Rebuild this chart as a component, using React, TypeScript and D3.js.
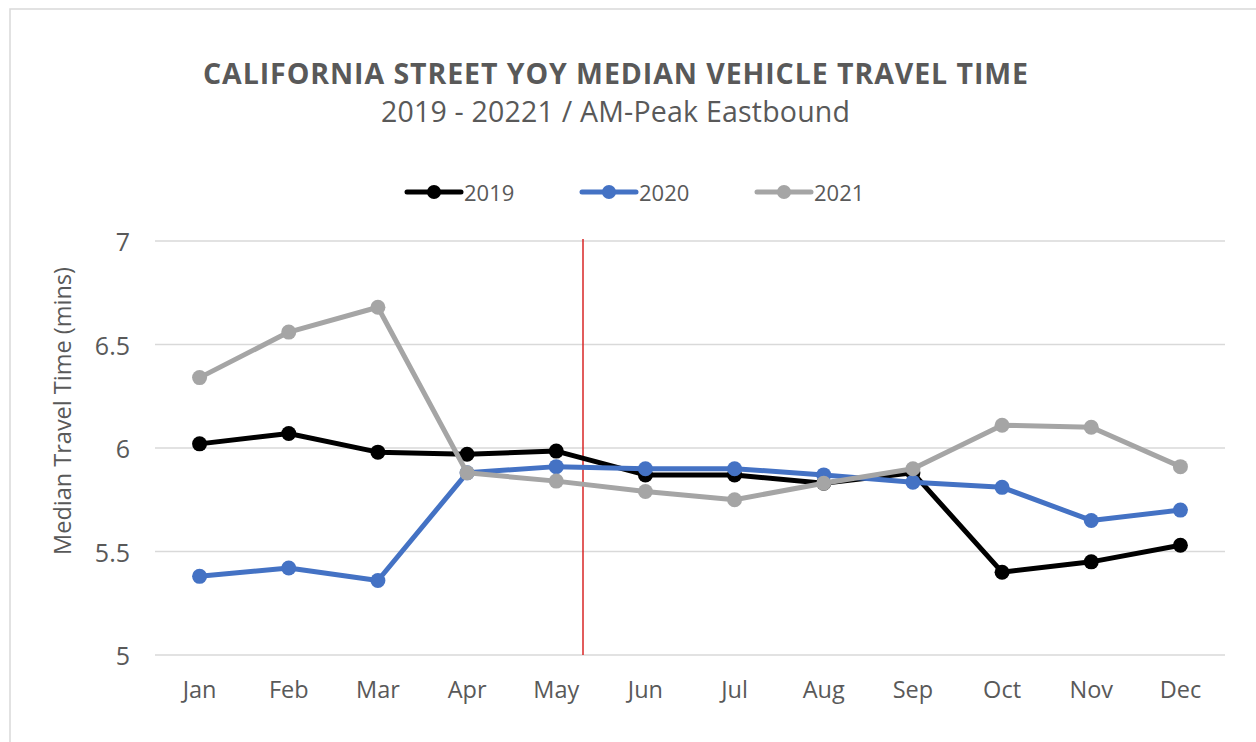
import React from "react";
import * as d3 from "d3";

const months = ["Jan","Feb","Mar","Apr","May","Jun","Jul","Aug","Sep","Oct","Nov","Dec"];
const values2019 = [6.02, 6.07, 5.98, 5.97, 5.985, 5.87, 5.87, 5.83, 5.88, 5.40, 5.45, 5.53];
const values2020 = [5.38, 5.42, 5.36, 5.88, 5.91, 5.90, 5.90, 5.87, 5.835, 5.81, 5.65, 5.70];
const values2021 = [6.34, 6.56, 6.68, 5.88, 5.84, 5.79, 5.75, 5.83, 5.90, 6.11, 6.10, 5.91];
const seriesNames = ["2019", "2020", "2021"];
const seriesColors = ["#000000", "#4472C4", "#A5A5A5"];
const yTicks = [5, 5.5, 6, 6.5, 7];
const markerPosition = 4.3; // in month-index units (between May and Jun)

const W = 1256, H = 742;
const FONT = "'Open Sans', 'Noto Sans', sans-serif";
const TEXT = "#595959";

export default function App() {
  const left = 155, right = 1225, top = 241, bottom = 655;
  const x = d3.scaleBand<string>().domain(months).range([left, right]);
  const xc = (m: string) => (x(m) as number) + x.bandwidth() / 2;
  const xIdx = d3.scaleLinear().domain([-0.5, 11.5]).range([left, right]);
  const y = d3.scaleLinear().domain([5, 7]).range([bottom, top]);
  const series = [values2019, values2020, values2021];
  const line = d3.line<number>().x((_, i) => xc(months[i])).y((d) => y(d));

  const legendX = [407, 582, 757];

  return (
    <svg width={W} height={H} style={{ position: "absolute", left: 0, top: 0, background: "#fff" }} fontFamily={FONT}>
      <rect x={10} y={9} width={W} height={H} fill="#fff" stroke="#D9D9D9" strokeWidth={1.5} />
      <text x={615.5} y={84} textAnchor="middle" fontSize={28.5} fontWeight="bold" fill={TEXT} textLength={825} lengthAdjust="spacing">
        CALIFORNIA STREET YOY MEDIAN VEHICLE TRAVEL TIME
      </text>
      <text x={615.5} y={122} textAnchor="middle" fontSize={28.5} fill={TEXT} textLength={469} lengthAdjust="spacing">
        2019 - 20221 / AM-Peak Eastbound
      </text>
      {seriesNames.map((n, i) => (
        <g key={n}>
          <line x1={legendX[i]} x2={legendX[i] + 54} y1={192} y2={192} stroke={seriesColors[i]} strokeWidth={5} strokeLinecap="round" />
          <circle cx={legendX[i] + 27} cy={192} r={7} fill={seriesColors[i]} />
          <text x={legendX[i] + 57} y={192} dominantBaseline="central" fontSize={22} fill={TEXT}>{n}</text>
        </g>
      ))}
      {yTicks.map((t) => (
        <g key={t}>
          <line x1={left} x2={right} y1={y(t)} y2={y(t)} stroke="#D9D9D9" strokeWidth={1.5} />
          <text x={130} y={y(t)} textAnchor="end" dominantBaseline="central" fontSize={25} fill={TEXT}>{t}</text>
        </g>
      ))}
      {months.map((m) => (
        <text key={m} x={xc(m)} y={689} textAnchor="middle" dominantBaseline="central" fontSize={23.5} fill={TEXT}>{m}</text>
      ))}
      <text transform={`translate(62,${411}) rotate(-90)`} textAnchor="middle" dominantBaseline="central" fontSize={23.5} fill={TEXT}>
        Median Travel Time (mins)
      </text>
      <line x1={xIdx(markerPosition)} x2={xIdx(markerPosition)} y1={239} y2={bottom} stroke="#D92626" strokeWidth={1.5} />
      {series.map((s, i) => (
        <g key={i}>
          <path d={line(s) as string} fill="none" stroke={seriesColors[i]} strokeWidth={5} strokeLinejoin="round" strokeLinecap="round" />
          {s.map((v, j) => (
            <circle key={j} cx={xc(months[j])} cy={y(v)} r={7.5} fill={seriesColors[i]} />
          ))}
        </g>
      ))}
    </svg>
  );
}
